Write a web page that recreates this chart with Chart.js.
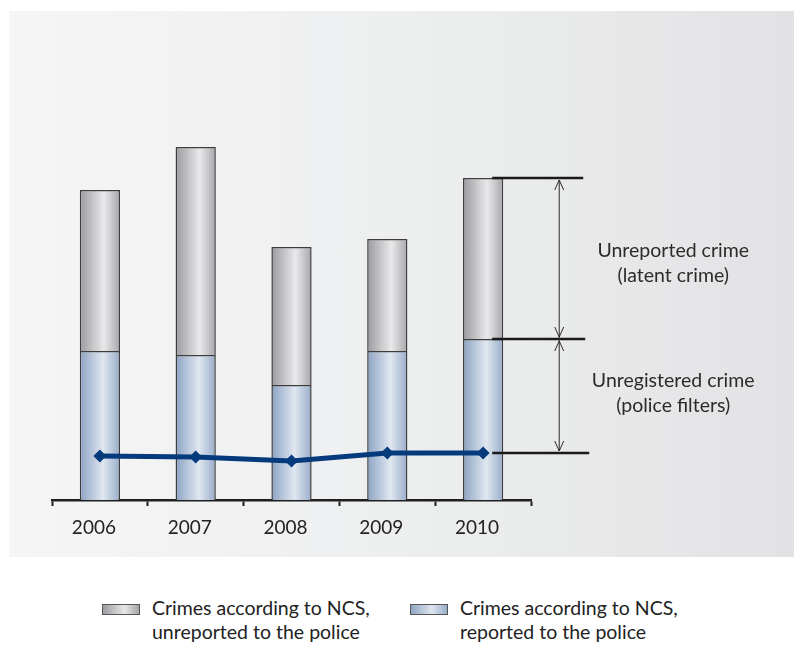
<!DOCTYPE html>
<html>
<head>
<meta charset="utf-8">
<script src="https://cdn.jsdelivr.net/npm/chart.js@4/dist/chart.umd.min.js"></script>
<style>
  html, body { margin: 0; padding: 0; background: #fff; }
  body { width: 795px; height: 645px; position: relative; overflow: hidden; font-family: Lato, 'Noto Sans', sans-serif; }
  .panel {
    position: absolute; left: 9px; top: 11px; width: 785px; height: 546px;
    background: linear-gradient(to right, #f5f5f5 0%, #eff0f1 40%, #e9eaea 70%, #e2e2e5 100%);
  }
  .chart-box { position: absolute; left: 0; top: 0; width: 795px; height: 560px; }
  .legend-item { position: absolute; top: 596px; font-size: 19.5px; line-height: 24px; color: #222; }
  .swatch { position: absolute; top: 604px; width: 36px; height: 9px; border: 1px solid #555; }
</style>
</head>
<body>
<div class="panel"></div>
<div class="chart-box"><canvas id="chart" width="795" height="560"></canvas></div>

<div class="swatch" style="left:102px;background:linear-gradient(to right,#9d9da1,#e8e8ea 60%,#a6a6aa);"></div>
<div class="legend-item" style="left:152px;">Crimes according to NCS,<br>unreported to the police</div>
<div class="swatch" style="left:410px;background:linear-gradient(to right,#8ea5c4,#dfe6ef 58%,#98adc9);"></div>
<div class="legend-item" style="left:460px;">Crimes according to NCS,<br>reported to the police</div>

<script>
// values are read off the picture (no y axis is shown, so units are relative)
const years = ['2006', '2007', '2008', '2009', '2010']
const reported = [149, 145, 115, 149, 161]
const unreported = [161, 208, 138, 112, 161]
const registered = [44, 43, 39, 47, 47]

const BAR_PCT = 0.42

const grayStops = [[0, '#9b9b9f'], [0.6, '#e9e9eb'], [1, '#a7a7ab']]
const blueStops = [[0, '#8ca3c3'], [0.58, '#e0e7f0'], [1, '#97acc9']]

function barFill(stops) {
  return (ctx) => {
    const chart = ctx.chart
    const xs = chart.scales && chart.scales.x
    if (!xs || ctx.dataIndex == null || !xs.width) return stops[1][1]
    const cx = xs.getPixelForValue(ctx.dataIndex)
    const half = xs.width / years.length * BAR_PCT / 2
    const g = chart.ctx.createLinearGradient(cx - half, 0, cx + half, 0)
    stops.forEach(([o, c]) => g.addColorStop(o, c))
    return g
  }
}

function arrowHead(c, x, y, dir) {
  c.beginPath()
  c.moveTo(x - 4.5, y - dir * 10)
  c.lineTo(x, y)
  c.lineTo(x + 4.5, y - dir * 10)
  c.stroke()
}

const annotations = {
  id: 'annotations',
  afterDatasetsDraw(chart) {
    const c = chart.ctx
    const ys = chart.scales.y
    const last = years.length - 1
    const bar = chart.getDatasetMeta(0).data[last]
    const right = bar.x + bar.width / 2
    const yTop = ys.getPixelForValue(reported[last] + unreported[last])
    const yMid = ys.getPixelForValue(reported[last])
    const yLow = ys.getPixelForValue(registered[last])
    const ax = right + 56

    c.save()
    c.strokeStyle = '#1a1a1a'
    c.lineWidth = 2.5
    ;[[yTop, 80], [yMid, 82], [yLow, 86]].forEach(([y, len]) => {
      c.beginPath()
      c.moveTo(right - 11, y)
      c.lineTo(right + len, y)
      c.stroke()
    })

    c.lineWidth = 1
    c.strokeStyle = '#2a2a2a'
    c.beginPath()
    c.moveTo(ax, yTop + 2)
    c.lineTo(ax, yLow - 2)
    c.stroke()
    arrowHead(c, ax, yTop + 2, -1)
    arrowHead(c, ax, yMid - 2, 1)
    arrowHead(c, ax, yMid + 2, -1)
    arrowHead(c, ax, yLow - 2, 1)

    c.fillStyle = '#2b2b2b'
    c.font = '19.5px Lato, "Noto Sans", sans-serif'
    c.textAlign = 'center'
    c.textBaseline = 'middle'
    const tx = right + 170
    const m1 = (yTop + yMid) / 2 + 5
    c.fillText('Unreported crime', tx, m1 - 12.5)
    c.fillText('(latent crime)', tx, m1 + 12.5)
    const m2 = (yMid + yLow) / 2 - 3
    c.fillText('Unregistered crime', tx, m2 - 12.5)
    c.fillText('(police filters)', tx, m2 + 12.5)
    c.restore()
  }
}

new Chart(document.getElementById('chart'), {
  type: 'bar',
  data: {
    labels: years,
    datasets: [
      {
        label: 'Crimes according to NCS, reported to the police',
        data: reported,
        backgroundColor: barFill(blueStops),
        borderColor: '#3d3d3d',
        borderWidth: 1.5,
        stack: 'ncs',
        order: 1
      },
      {
        label: 'Crimes according to NCS, unreported to the police',
        data: unreported,
        backgroundColor: barFill(grayStops),
        borderColor: '#3d3d3d',
        borderWidth: 1.5,
        stack: 'ncs',
        order: 1
      },
      {
        type: 'line',
        label: 'Registered crime',
        data: registered,
        borderColor: '#053a7c',
        backgroundColor: '#053a7c',
        borderWidth: 5,
        pointStyle: 'rectRot',
        pointRadius: 6.5,
        pointBorderWidth: 0,
        tension: 0,
        stack: 'police',
        order: 0
      }
    ]
  },
  options: {
    responsive: false,
    animation: false,
    layout: { padding: { left: 52, right: 264, top: 20, bottom: 0 } },
    datasets: { bar: { barPercentage: BAR_PCT, categoryPercentage: 1 } },
    plugins: { legend: { display: false }, tooltip: { enabled: false } },
    scales: {
      x: {
        stacked: true,
        afterFit: (s) => { s.height = 60 },
        border: { display: true, color: '#1e1e1e', width: 2.5 },
        grid: { display: true, offset: true, drawOnChartArea: false, drawTicks: true, tickLength: 6, tickWidth: 2, tickColor: '#1e1e1e' },
        ticks: { color: '#222', font: { family: 'Lato, "Noto Sans", sans-serif', size: 19 }, padding: 10, labelOffset: -6 }
      },
      y: {
        stacked: true,
        display: false,
        min: 0,
        max: 480
      }
    }
  },
  plugins: [annotations]
})
</script>
</body>
</html>
